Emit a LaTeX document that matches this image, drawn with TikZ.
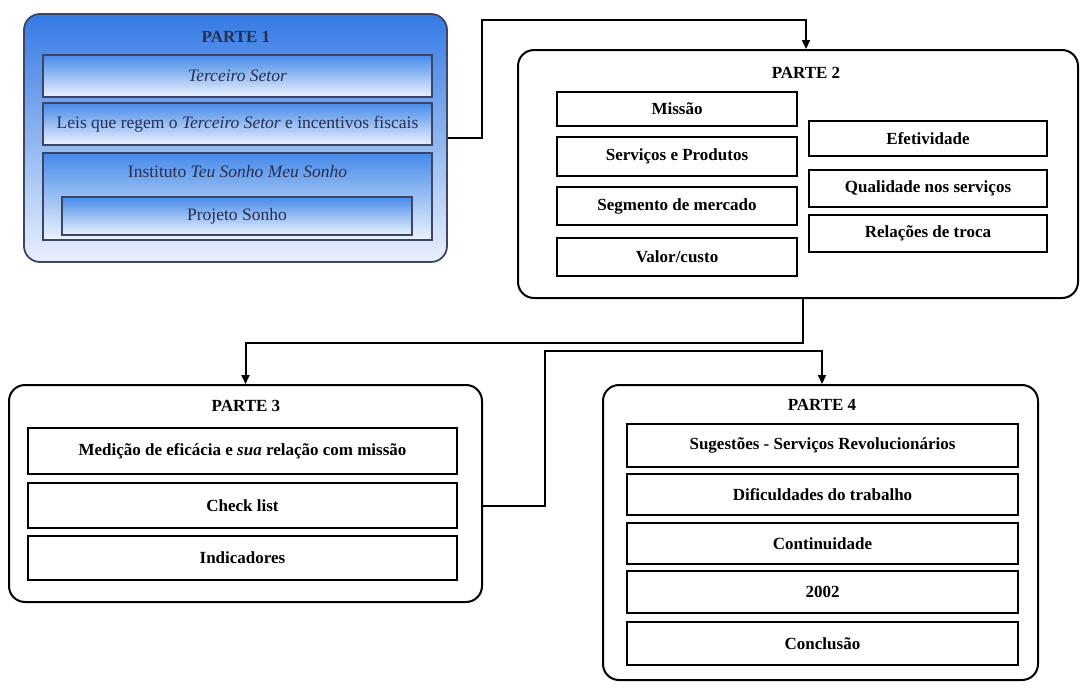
\documentclass[tikz,border=0pt]{standalone}
\usepackage{fontspec}
\setmainfont{Liberation Serif}
\usetikzlibrary{arrows.meta}
\definecolor{bluetop}{RGB}{52,122,228}
\definecolor{bluebot}{RGB}{232,240,252}
\definecolor{boxtop}{RGB}{70,138,234}
\definecolor{boxbot}{RGB}{236,243,252}
\definecolor{navytext}{RGB}{40,46,78}
\definecolor{edgeblue}{RGB}{60,70,100}
\tikzset{
  sz/.style 2 args={minimum width=#1pt, minimum height=#2pt},
  part/.style={draw=black, line width=2pt, rounded corners=16pt, inner sep=0pt},
  bluepart/.style={draw=edgeblue, line width=1.8pt, rounded corners=16pt, inner sep=0pt,
    top color=bluetop, bottom color=bluebot},
  item/.style={draw=black, line width=1.5pt, inner sep=0pt,
    font=\fontsize{17}{19}\selectfont\bfseries},
  blueitem/.style={draw=edgeblue, line width=1.3pt, inner sep=0pt,
    top color=boxtop, bottom color=boxbot, text=navytext,
    font=\fontsize{17.5}{19}\selectfont},
  title/.style={font=\fontsize{17}{19}\selectfont\bfseries, inner sep=0pt},
  conn/.style={line width=2pt, -{Triangle[length=9pt,width=8pt]}},
}
\begin{document}
\begin{tikzpicture}[x=1pt, y=-1pt]
\useasboundingbox (0,0) rectangle (1080,688);

% Part 1: shaded block
\node[bluepart, sz={423}{248}] (p1) at (235.5,138) {};
\node[title, text=navytext] (p1t) at (236,37) {PARTE 1};
\node[blueitem, sz={389}{42}] (p1a) at (237.5,76) {\itshape Terceiro Setor};
\node[blueitem, sz={389}{42}] (p1b) at (237.5,124) {Leis que regem o \textit{Terceiro Setor} e incentivos fiscais};
\node[blueitem, sz={389}{87}] (p1c) at (237.5,196.5) {};
\node[text=navytext, inner sep=0pt, font=\fontsize{17.5}{19}\selectfont] (p1ct) at (237.5,172) {Instituto \textit{Teu Sonho Meu Sonho}};
\node[blueitem, sz={350}{38}] (p1d) at (237,216) {Projeto Sonho};

% Part 2
\node[part, sz={560}{248}] (p2) at (798,174) {};
\node[title] (p2t) at (806,73) {PARTE 2};
\node[item, sz={240}{34}] (p2a) at (677,109) {Missão};
\node[item, sz={240}{39}] (p2b) at (677,156.5) {Serviços e Produtos};
\node[item, sz={240}{38}] (p2c) at (677,206) {Segmento de mercado};
\node[item, sz={240}{38}] (p2d) at (677,257) {Valor/custo};
\node[item, sz={238}{35}] (p2e) at (928,138.5) {Efetividade};
\node[item, sz={238}{37}] (p2f) at (928,188.5) {Qualidade nos serviços};
\node[item, sz={238}{37}] (p2g) at (928,233.5) {Relações de troca};

% Part 3
\node[part, sz={473}{217}] (p3) at (245.5,493.5) {};
\node[title] (p3t) at (246,406) {PARTE 3};
\node[item, sz={429}{46}] (p3a) at (242.5,451) {Medição de eficácia e \textit{sua} relação com missão};
\node[item, sz={429}{45}] (p3b) at (242.5,505.5) {Check list};
\node[item, sz={429}{44}] (p3c) at (242.5,558) {Indicadores};

% Part 4
\node[part, sz={435}{295}] (p4) at (820.5,532.5) {};
\node[title] (p4t) at (822,405) {PARTE 4};
\node[item, sz={391}{43}] (p4a) at (822.5,445.5) {Sugestões - Serviços Revolucionários};
\node[item, sz={391}{41}] (p4b) at (822.5,494.5) {Dificuldades do trabalho};
\node[item, sz={391}{41}] (p4c) at (822.5,543.5) {Continuidade};
\node[item, sz={391}{42}] (p4d) at (822.5,592) {2002};
\node[item, sz={391}{43}] (p4e) at (822.5,643.5) {Conclusão};

% Connectors
\coordinate (c1) at (482,20);
\coordinate (c2) at (803,343);
\coordinate (c3) at (545,351);
\draw[conn] (p1.east) -| (c1) -| (p2.north -| p2t);
\draw[conn] (p2.south -| c2) -- (c2) -| (p3.north);
\draw[conn] (p3.east |- p3b) -| (c3) -| (p4.north -| p4t);
\end{tikzpicture}
\end{document}
